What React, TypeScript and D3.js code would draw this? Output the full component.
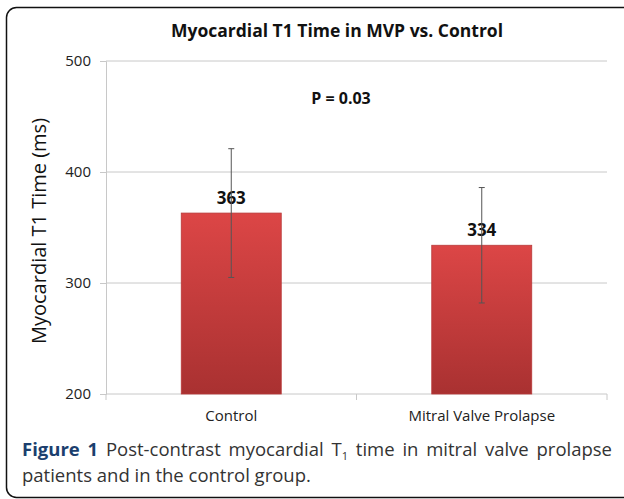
import React, { useEffect, useRef } from 'react';
import * as d3 from 'd3';

const categories = ['Control', 'Mitral Valve Prolapse'];
const means = [363, 334];
const errLow = [305, 282];
const errHigh = [421, 386];
const yTicks = [200, 300, 400, 500];

const App = () => {
  const ref = useRef<SVGSVGElement>(null);

  useEffect(() => {
    const svg = d3.select(ref.current);
    svg.selectAll('*').remove();

    const chartFont = "'Open Sans', sans-serif";

    // gradient for bars
    const grad = svg.append('defs').append('linearGradient')
      .attr('id', 'barGrad').attr('x1', 0).attr('y1', 0).attr('x2', 0).attr('y2', 1);
    grad.append('stop').attr('offset', '0%').attr('stop-color', '#dc4646');
    grad.append('stop').attr('offset', '100%').attr('stop-color', '#a93131');

    // outer frame
    svg.append('rect')
      .attr('x', 6.5).attr('y', 7.5).attr('width', 640).attr('height', 490)
      .attr('rx', 10).attr('fill', 'white').attr('stroke', '#111').attr('stroke-width', 1.5);

    const x = d3.scaleBand().domain(categories).range([106, 607]);
    const y = d3.scaleLinear().domain([200, 500]).range([394, 61]);

    // gridlines
    svg.append('g').selectAll('line').data(yTicks.slice(1)).join('line')
      .attr('x1', 106).attr('x2', 607)
      .attr('y1', d => y(d)).attr('y2', d => y(d))
      .attr('stroke', '#c8c8c8').attr('stroke-width', 1);

    // y axis
    const yAxis = d3.axisLeft(y).tickValues(yTicks).tickSize(6).tickPadding(9);
    const gy = svg.append('g').attr('transform', 'translate(106,0)').call(yAxis);
    gy.select('.domain').attr('stroke', '#c8c8c8');
    gy.selectAll('.tick line').attr('stroke', '#c8c8c8');
    gy.selectAll('.tick text').attr('font-family', chartFont).attr('font-size', 15).attr('fill', '#222');

    // x axis baseline + category ticks
    svg.append('line').attr('x1', 106).attr('x2', 607).attr('y1', y(200)).attr('y2', y(200))
      .attr('stroke', '#c8c8c8');
    svg.append('g').selectAll('line').data([106, 106 + x.step(), 607]).join('line')
      .attr('x1', d => d).attr('x2', d => d).attr('y1', y(200)).attr('y2', y(200) + 6)
      .attr('stroke', '#c8c8c8');
    svg.append('g').selectAll('text').data(categories).join('text')
      .attr('x', d => (x(d) as number) + x.bandwidth() / 2).attr('y', 421)
      .attr('text-anchor', 'middle').attr('font-family', chartFont).attr('font-size', 15)
      .attr('fill', '#222').text(d => d);

    const bw = 100;
    const cx = (i: number) => (x(categories[i]) as number) + x.bandwidth() / 2;

    // bars
    svg.append('g').selectAll('rect').data(means).join('rect')
      .attr('x', (d, i) => cx(i) - bw / 2).attr('width', bw)
      .attr('y', d => y(d)).attr('height', d => y(200) - y(d))
      .attr('fill', 'url(#barGrad)').attr('stroke', '#b83a3a').attr('stroke-width', 0.8);

    // value labels
    svg.append('g').selectAll('text').data(means).join('text')
      .attr('x', (d, i) => cx(i)).attr('y', d => y(d) - 9)
      .attr('text-anchor', 'middle').attr('font-family', chartFont).attr('font-weight', 'bold')
      .attr('font-size', 17).attr('fill', '#111').text(d => d);

    // error bars
    const eb = svg.append('g').attr('stroke', '#555').attr('stroke-width', 1);
    means.forEach((m, i) => {
      eb.append('line').attr('x1', cx(i)).attr('x2', cx(i)).attr('y1', y(errHigh[i])).attr('y2', y(errLow[i]));
      [errHigh[i], errLow[i]].forEach(v => {
        eb.append('line').attr('x1', cx(i) - 3).attr('x2', cx(i) + 3).attr('y1', y(v)).attr('y2', y(v));
      });
    });

    // titles
    svg.append('text').attr('x', 337).attr('y', 37).attr('text-anchor', 'middle')
      .attr('font-family', chartFont).attr('font-weight', 'bold').attr('font-size', 17.5)
      .attr('fill', '#111').text('Myocardial T1 Time in MVP vs. Control');
    svg.append('text').attr('x', 341).attr('y', 104).attr('text-anchor', 'middle')
      .attr('font-family', chartFont).attr('font-weight', 'bold').attr('font-size', 16)
      .attr('fill', '#111').text('P = 0.03');
    svg.append('text').attr('transform', `translate(46,231) rotate(-90)`)
      .attr('text-anchor', 'middle').attr('font-family', chartFont).attr('font-size', 20)
      .attr('fill', '#111').text('Myocardial T1 Time (ms)');

    // caption (first line justified via word-spacing)
    const cap1 = svg.append('text').attr('x', 22).attr('y', 456)
      .attr('font-family', chartFont).attr('font-size', 18.5).attr('fill', '#333');
    cap1.append('tspan').attr('font-weight', 'bold').attr('fill', '#1b3f6e').text('Figure 1');
    cap1.append('tspan').text(' Post-contrast myocardial T');
    cap1.append('tspan').attr('font-size', 11).attr('dy', 4).text('1');
    cap1.append('tspan').attr('dy', -4).text(' time in mitral valve prolapse');
    const node = cap1.node() as SVGTextElement;
    const len = node.getComputedTextLength();
    cap1.style('word-spacing', `${(590 - len) / 9}px`);

    svg.append('text').attr('x', 22).attr('y', 482)
      .attr('font-family', chartFont).attr('font-size', 18.5).attr('fill', '#333')
      .text('patients and in the control group.');
  }, []);

  return (
    <svg ref={ref} width={624} height={499}
      style={{ position: 'absolute', left: 0, top: 0, display: 'block' }} />
  );
};

export default App;
